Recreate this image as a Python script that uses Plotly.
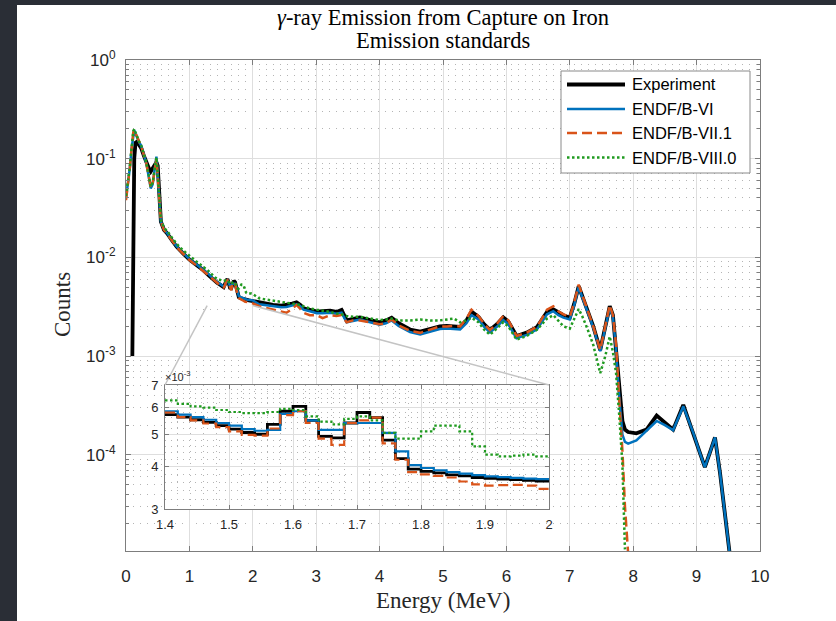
import math
import plotly.graph_objects as go

# ---------------- data ----------------
series_names = ["Experiment", "ENDF/B-VI", "ENDF/B-VII.1", "ENDF/B-VIII.0"]

energy_low = [0.00, 0.03, 0.06, 0.09, 0.10, 0.115, 0.13, 0.15, 0.17, 0.20,
              0.24, 0.28, 0.32, 0.36, 0.39, 0.42, 0.45, 0.48, 0.50, 0.525,
              0.55, 0.60, 0.65, 0.72, 0.80, 0.90, 1.00, 1.10, 1.20, 1.30]
exp_low = [None, None, None, None, 1.0e-3, 0.022, 0.10, 0.145, 0.148, 0.140,
           0.128, 0.108, 0.090, 0.080, 0.074, 0.080, 0.087, 0.092, 0.085, 0.040,
           0.023, 0.019, 0.0175, 0.0150, 0.0128, 0.0110, 0.0095, 0.0085, 0.0076, 0.0066]
vi_low = [0.040, 0.055, 0.080, 0.130, 0.150, 0.185, 0.195, 0.180, 0.165, 0.150,
          0.135, 0.110, 0.090, 0.065, 0.050, 0.055, 0.075, 0.105, 0.070, 0.035,
          0.023, 0.0192, 0.0176, 0.0151, 0.0129, 0.0111, 0.0096, 0.0086, 0.0077, 0.0068]
vii_low = [0.038, 0.054, 0.080, 0.128, 0.150, 0.185, 0.195, 0.182, 0.166, 0.150,
           0.134, 0.110, 0.090, 0.066, 0.051, 0.056, 0.075, 0.100, 0.068, 0.034,
           0.023, 0.0190, 0.0174, 0.0150, 0.0127, 0.0109, 0.0094, 0.0084, 0.0075, 0.0066]
viii_low = [0.042, 0.056, 0.082, 0.132, 0.155, 0.190, 0.200, 0.185, 0.168, 0.152,
            0.136, 0.112, 0.092, 0.067, 0.052, 0.057, 0.077, 0.103, 0.070, 0.036,
            0.024, 0.0200, 0.0185, 0.0160, 0.0137, 0.0118, 0.0103, 0.0092, 0.0082, 0.0073]

# fine binned region shown in the inset (bin starts, 0.02 MeV)
energy_inset = [1.40, 1.42, 1.44, 1.46, 1.48, 1.50, 1.52, 1.54, 1.56, 1.58,
                1.60, 1.62, 1.64, 1.66, 1.68, 1.70, 1.72, 1.74, 1.76, 1.78,
                1.80, 1.82, 1.84, 1.86, 1.88, 1.90, 1.92, 1.94, 1.96, 1.98, 2.00]
exp_inset = [5.72e-3, 5.62e-3, 5.52e-3, 5.42e-3, 5.30e-3, 5.18e-3, 5.06e-3, 5.00e-3, 5.35e-3, 5.85e-3,
             6.05e-3, 5.50e-3, 4.93e-3, 4.88e-3, 5.40e-3, 5.80e-3, 5.60e-3, 4.80e-3, 4.23e-3, 3.94e-3,
             3.88e-3, 3.84e-3, 3.79e-3, 3.76e-3, 3.72e-3, 3.70e-3, 3.68e-3, 3.67e-3, 3.65e-3, 3.63e-3, 3.62e-3]
vi_inset = [5.85e-3, 5.72e-3, 5.62e-3, 5.52e-3, 5.40e-3, 5.30e-3, 5.18e-3, 5.12e-3, 5.15e-3, 5.75e-3,
            5.85e-3, 5.50e-3, 5.15e-3, 5.15e-3, 5.40e-3, 5.40e-3, 5.40e-3, 5.05e-3, 4.45e-3, 4.05e-3,
            3.97e-3, 3.91e-3, 3.86e-3, 3.82e-3, 3.78e-3, 3.75e-3, 3.73e-3, 3.71e-3, 3.69e-3, 3.68e-3, 3.67e-3]
vii_inset = [5.80e-3, 5.62e-3, 5.50e-3, 5.38e-3, 5.25e-3, 5.10e-3, 4.98e-3, 4.95e-3, 5.20e-3, 5.70e-3,
             5.85e-3, 5.40e-3, 4.85e-3, 4.65e-3, 5.40e-3, 5.50e-3, 5.60e-3, 4.70e-3, 4.20e-3, 3.86e-3,
             3.80e-3, 3.76e-3, 3.72e-3, 3.62e-3, 3.55e-3, 3.52e-3, 3.53e-3, 3.54e-3, 3.52e-3, 3.44e-3, 3.42e-3]
viii_inset = [6.30e-3, 6.15e-3, 6.05e-3, 6.00e-3, 5.90e-3, 5.82e-3, 5.78e-3, 5.78e-3, 5.82e-3, 5.95e-3,
              5.90e-3, 5.65e-3, 5.45e-3, 5.35e-3, 5.55e-3, 5.65e-3, 5.50e-3, 5.05e-3, 4.85e-3, 4.85e-3,
              5.10e-3, 5.30e-3, 5.30e-3, 5.10e-3, 4.60e-3, 4.35e-3, 4.30e-3, 4.32e-3, 4.35e-3, 4.30e-3, 4.25e-3]

energy_high = [2.10, 2.20, 2.32, 2.45, 2.53, 2.62, 2.69, 2.75, 2.80, 2.90,
               3.01, 3.10, 3.22, 3.32, 3.40, 3.48, 3.58, 3.69, 3.85, 4.00,
               4.10, 4.19, 4.30, 4.48, 4.64, 4.80, 4.95, 5.06, 5.17, 5.27,
               5.37, 5.45, 5.56, 5.65, 5.74, 5.85, 5.95, 6.03, 6.16, 6.32,
               6.48, 6.56, 6.64, 6.74, 6.82, 6.90, 7.00, 7.07, 7.14, 7.20,
               7.27, 7.37, 7.48, 7.56, 7.63, 7.68, 7.73, 7.78, 7.83, 7.87,
               7.92, 8.05, 8.21, 8.37, 8.50, 8.63, 8.79, 8.95, 9.05, 9.13,
               9.22, 9.29, 9.37, 9.45, 9.53]
exp_high = [3.45e-3, 3.38e-3, 3.30e-3, 3.25e-3, 3.30e-3, 3.40e-3, 3.50e-3, 3.30e-3, 3.05e-3, 2.95e-3,
            2.82e-3, 2.85e-3, 2.88e-3, 2.80e-3, 2.93e-3, 2.30e-3, 2.40e-3, 2.47e-3, 2.32e-3, 2.20e-3,
            2.30e-3, 2.45e-3, 2.15e-3, 1.86e-3, 1.77e-3, 1.90e-3, 2.00e-3, 2.02e-3, 2.00e-3, 1.98e-3,
            2.30e-3, 2.82e-3, 2.50e-3, 2.10e-3, 1.84e-3, 2.10e-3, 2.47e-3, 2.24e-3, 1.60e-3, 1.73e-3,
            1.96e-3, 2.30e-3, 2.80e-3, 2.98e-3, 2.75e-3, 2.60e-3, 2.45e-3, 3.40e-3, 5.10e-3, 4.00e-3,
            3.00e-3, 2.00e-3, 1.15e-3, 2.00e-3, 3.20e-3, 2.60e-3, 1.20e-3, 4.50e-4, 2.20e-4, 1.80e-4,
            1.70e-4, 1.65e-4, 1.80e-4, 2.50e-4, 2.10e-4, 1.80e-4, 3.20e-4, 1.65e-4, 1.05e-4, 7.5e-5,
            1.10e-4, 1.50e-4, 6.5e-5, 2.5e-5, 9e-6]
vi_high = [3.35e-3, 3.28e-3, 3.20e-3, 3.12e-3, 3.15e-3, 3.25e-3, 3.35e-3, 3.20e-3, 2.95e-3, 2.85e-3,
           2.72e-3, 2.72e-3, 2.75e-3, 2.68e-3, 2.75e-3, 2.20e-3, 2.28e-3, 2.35e-3, 2.20e-3, 2.08e-3,
           2.15e-3, 2.30e-3, 2.02e-3, 1.75e-3, 1.66e-3, 1.78e-3, 1.88e-3, 1.90e-3, 1.88e-3, 1.86e-3,
           2.15e-3, 2.60e-3, 2.35e-3, 1.98e-3, 1.74e-3, 1.98e-3, 2.32e-3, 2.10e-3, 1.52e-3, 1.64e-3,
           1.86e-3, 2.20e-3, 2.65e-3, 2.85e-3, 2.60e-3, 2.45e-3, 2.35e-3, 3.30e-3, 5.00e-3, 3.90e-3,
           2.90e-3, 1.95e-3, 1.12e-3, 1.95e-3, 3.10e-3, 2.50e-3, 1.15e-3, 3.80e-4, 1.60e-4, 1.35e-4,
           1.30e-4, 1.40e-4, 1.75e-4, 2.20e-4, 2.00e-4, 1.78e-4, 3.10e-4, 1.65e-4, 1.05e-4, 7.5e-5,
           1.10e-4, 1.50e-4, 6.5e-5, 2.5e-5, 9e-6]
vii_high = [3.20e-3, 3.10e-3, 2.95e-3, 2.85e-3, 2.75e-3, 3.00e-3, 3.30e-3, 3.00e-3, 2.75e-3, 2.60e-3,
            2.60e-3, 2.42e-3, 2.60e-3, 2.55e-3, 2.60e-3, 2.20e-3, 2.30e-3, 2.30e-3, 2.20e-3, 2.10e-3,
            2.15e-3, 2.35e-3, 2.05e-3, 1.80e-3, 1.72e-3, 1.85e-3, 2.00e-3, 2.00e-3, 2.02e-3, 2.00e-3,
            2.40e-3, 2.95e-3, 2.55e-3, 2.12e-3, 1.84e-3, 2.12e-3, 2.55e-3, 2.30e-3, 1.60e-3, 1.73e-3,
            1.98e-3, 2.40e-3, 2.95e-3, 3.20e-3, 2.85e-3, 2.65e-3, 2.50e-3, 3.50e-3, 5.30e-3, 4.10e-3,
            3.05e-3, 2.00e-3, 1.15e-3, 2.00e-3, 3.30e-3, 2.60e-3, 1.30e-3, 3.60e-4, 1.10e-4, 3.0e-5,
            1.0e-5, None, None, None, None, None, None, None, None, None,
            None, None, None, None, None]
viii_high = [3.85e-3, 3.75e-3, 3.65e-3, 3.55e-3, 3.50e-3, 3.45e-3, 3.40e-3, 3.30e-3, 3.20e-3, 3.05e-3,
             2.95e-3, 2.90e-3, 2.80e-3, 2.70e-3, 2.65e-3, 2.55e-3, 2.50e-3, 2.50e-3, 2.40e-3, 2.32e-3,
             2.35e-3, 2.40e-3, 2.30e-3, 2.30e-3, 2.35e-3, 2.30e-3, 2.30e-3, 2.35e-3, 2.40e-3, 2.20e-3,
             2.30e-3, 2.45e-3, 2.20e-3, 1.85e-3, 1.65e-3, 1.90e-3, 2.20e-3, 2.00e-3, 1.47e-3, 1.60e-3,
             1.85e-3, 2.10e-3, 2.40e-3, 2.60e-3, 2.30e-3, 2.00e-3, 1.90e-3, 2.40e-3, 3.00e-3, 2.50e-3,
             1.95e-3, 1.30e-3, 6.7e-4, 1.00e-3, 1.58e-3, 1.10e-3, 6.7e-4, 2.5e-4, 8.0e-5, 1.1e-5,
             None, None, None, None, None, None, None, None, None, None,
             None, None, None, None, None]

x_tick_vals = [0, 1, 2, 3, 4, 5, 6, 7, 8, 9, 10]
y_tick_vals = [1e-4, 1e-3, 1e-2, 1e-1, 1]
y_tick_text = ["10<sup>-4</sup>", "10<sup>-3</sup>", "10<sup>-2</sup>", "10<sup>-1</sup>", "10<sup>0</sup>"]
inset_x_ticks = [1.4, 1.5, 1.6, 1.7, 1.8, 1.9, 2.0]
inset_x_text = ["1.4", "1.5", "1.6", "1.7", "1.8", "1.9", "2"]
inset_y_ticks = [3e-3, 4e-3, 5e-3, 6e-3, 7e-3]
inset_y_text = ["3", "4", "5", "6", "7"]
zoom_box_x = [1.28, 2.0]
zoom_box_y = [3.25e-3, 7.45e-3]

# ---------------- layout geometry ----------------
W, H = 836, 621
ML, MR, MT, MB = 126, 76, 60, 70
PW, PH = W - ML - MR, H - MT - MB
Y_LOG_RANGE = [math.log10(1.06e-5), 0.0]
X_RANGE = [0, 10]


def px2x(px):
    return (px - ML) / PW


def py2y(py):
    return (H - MB - py) / PH


INSET_X_DOM = [px2x(165), px2x(549)]
INSET_Y_DOM = [py2y(509), py2y(385)]

colors = ["#000000", "#0072BD", "#D95319", "#1f9a1f"]
dashes = ["solid", "solid", "10px,5px", "2.5px,2.5px"]
widths_main = [3.8, 2.5, 2.5, 2.5]
widths_inset = [2.8, 2.2, 2.2, 2.2]

SANS = "Liberation Sans, Arial, sans-serif"
TICK_FONT = dict(family=SANS, size=17, color="#262626")
INSET_TICK_FONT = dict(family=SANS, size=13, color="#262626")
SERIF = "Liberation Serif, Times New Roman, serif"
AXIS_COLOR = "#7d7d7d"
GRID = "#dedede"
MINOR_GRID = "#b4b4b4"

fig = go.Figure()

main_x = energy_low + energy_inset + energy_high
main_series = [exp_low + exp_inset + exp_high,
               vi_low + vi_inset + vi_high,
               vii_low + vii_inset + vii_high,
               viii_low + viii_inset + viii_high]
inset_series = [exp_inset, vi_inset, vii_inset, viii_inset]

for i, name in enumerate(series_names):
    fig.add_trace(go.Scatter(
        x=main_x, y=main_series[i], mode="lines", name=name, showlegend=False,
        line=dict(color=colors[i], width=widths_main[i], dash=dashes[i]),
        xaxis="x", yaxis="y"))

for i, name in enumerate(series_names):
    fig.add_trace(go.Scatter(
        x=energy_inset, y=inset_series[i], mode="lines", name=name, showlegend=False,
        line=dict(color=colors[i], width=widths_inset[i], dash=dashes[i], shape="hv"),
        xaxis="x2", yaxis="y2"))

minor_y = [k * 10 ** n for n in range(-5, 0) for k in range(2, 10)]
inset_minor_y = [v / 1000 for v in [3.2, 3.4, 3.6, 3.8, 4.2, 4.4, 4.6, 4.8, 5.2, 5.4, 5.6, 5.8,
                                    6.2, 6.4, 6.6, 6.8]]
inset_minor_x = [1.4 + 0.02 * k for k in range(31) if k % 5 != 0]

fig.update_layout(
    width=W, height=H,
    margin=dict(l=ML, r=MR, t=MT, b=MB),
    paper_bgcolor="#2a2e36",
    plot_bgcolor="#ffffff",
    showlegend=False,
    xaxis=dict(
        range=X_RANGE, tickvals=x_tick_vals, ticks="inside", ticklen=5,
        tickcolor=AXIS_COLOR, showline=True, linecolor=AXIS_COLOR, linewidth=1,
        mirror="ticks", showgrid=True, gridcolor=GRID, zeroline=False,
        tickfont=TICK_FONT, ticklabelstandoff=10,
    ),
    yaxis=dict(
        type="log", range=Y_LOG_RANGE, tickvals=y_tick_vals, ticktext=y_tick_text,
        ticks="inside", ticklen=5, tickcolor=AXIS_COLOR, showline=True,
        linecolor=AXIS_COLOR, linewidth=1, mirror="ticks", showgrid=True,
        gridcolor=GRID, zeroline=False, tickfont=TICK_FONT, ticklabelstandoff=6,
        minor=dict(tickvals=minor_y, ticks="inside", ticklen=3, tickcolor=AXIS_COLOR,
                   showgrid=True, gridcolor=MINOR_GRID, griddash="1px,6px", gridwidth=1),
    ),
    xaxis2=dict(
        domain=INSET_X_DOM, anchor="y2", range=[1.4, 2.0], tickvals=inset_x_ticks,
        ticktext=inset_x_text, ticks="inside", ticklen=4, tickcolor=AXIS_COLOR,
        showline=True, linecolor=AXIS_COLOR, linewidth=1, mirror="ticks",
        showgrid=True, gridcolor=GRID, zeroline=False,
        tickfont=INSET_TICK_FONT, ticklabelstandoff=3,
        minor=dict(tickvals=inset_minor_x, showgrid=True, gridcolor=MINOR_GRID,
                   griddash="1px,5px", gridwidth=1),
    ),
    yaxis2=dict(
        domain=INSET_Y_DOM, anchor="x2", type="log",
        range=[math.log10(3e-3), math.log10(7e-3)], tickvals=inset_y_ticks,
        ticktext=inset_y_text, ticks="inside", ticklen=4, tickcolor=AXIS_COLOR,
        showline=True, linecolor=AXIS_COLOR, linewidth=1, mirror="ticks",
        showgrid=True, gridcolor=GRID, zeroline=False,
        tickfont=INSET_TICK_FONT, ticklabelstandoff=3,
        minor=dict(tickvals=inset_minor_y, showgrid=True, gridcolor=MINOR_GRID,
                   griddash="1px,5px", gridwidth=1),
    ),
)

shapes = []
# white page area
shapes.append(dict(type="rect", xref="paper", yref="paper", layer="below",
                   x0=px2x(17), x1=px2x(W + 2), y0=py2y(H + 2), y1=py2y(5),
                   fillcolor="#ffffff", line=dict(width=0)))
# zoom box on the main axes
zy0, zy1 = math.log10(zoom_box_y[0]), math.log10(zoom_box_y[1])
shapes.append(dict(type="rect", xref="x", yref="y", layer="above",
                   x0=zoom_box_x[0], x1=zoom_box_x[1], y0=zy0, y1=zy1,
                   line=dict(color="#c4c4c4", width=1.5)))


def data_to_paper(xv, ylog):
    return ((xv - X_RANGE[0]) / (X_RANGE[1] - X_RANGE[0]),
            (ylog - Y_LOG_RANGE[0]) / (Y_LOG_RANGE[1] - Y_LOG_RANGE[0]))


bl = data_to_paper(zoom_box_x[0], zy0)
br = data_to_paper(zoom_box_x[1], zy0)
shapes.append(dict(type="line", xref="paper", yref="paper", layer="above",
                   x0=bl[0], y0=bl[1], x1=INSET_X_DOM[0], y1=INSET_Y_DOM[1],
                   line=dict(color="#c4c4c4", width=1.5)))
shapes.append(dict(type="line", xref="paper", yref="paper", layer="above",
                   x0=br[0], y0=br[1], x1=INSET_X_DOM[1], y1=INSET_Y_DOM[1],
                   line=dict(color="#c4c4c4", width=1.5)))

# legend box
shapes.append(dict(type="rect", xref="paper", yref="paper", layer="above",
                   x0=px2x(561), x1=px2x(750), y0=py2y(173), y1=py2y(71),
                   fillcolor="#ffffff", line=dict(color="#8a8a8a", width=1)))
annotations = []
legend_rows = [84.5, 109, 133, 157.5]
for i, name in enumerate(series_names):
    yy = py2y(legend_rows[i])
    shapes.append(dict(type="line", xref="paper", yref="paper", layer="above",
                       x0=px2x(567), x1=px2x(625), y0=yy, y1=yy,
                       line=dict(color=colors[i], width=widths_main[i], dash=dashes[i])))
    annotations.append(dict(xref="paper", yref="paper", x=px2x(630), y=yy,
                            xanchor="left", yanchor="middle", showarrow=False, text=name,
                            font=dict(family=SANS, size=16.5, color="#000000")))

# titles
annotations.append(dict(xref="paper", yref="paper", x=0.5, y=py2y(17), xanchor="center",
                        yanchor="middle", showarrow=False,
                        text="<i>γ</i>-ray Emission from Capture on Iron",
                        font=dict(family=SERIF, size=22.5, color="#000000")))
annotations.append(dict(xref="paper", yref="paper", x=0.5, y=py2y(41), xanchor="center",
                        yanchor="middle", showarrow=False, text="Emission standards",
                        font=dict(family=SERIF, size=22.5, color="#000000")))
annotations.append(dict(xref="paper", yref="paper", x=0.5, y=py2y(600), xanchor="center",
                        yanchor="middle", showarrow=False, text="Energy (MeV)",
                        font=dict(family=SERIF, size=23, color="#262626")))
annotations.append(dict(xref="paper", yref="paper", x=px2x(62), y=py2y(305), xanchor="center",
                        yanchor="middle", showarrow=False, text="Counts", textangle=-90,
                        font=dict(family=SERIF, size=23, color="#262626")))
annotations.append(dict(xref="paper", yref="paper", x=px2x(163), y=py2y(385), xanchor="left",
                        yanchor="bottom", showarrow=False, text="×10<sup>-3</sup>",
                        font=dict(family=SANS, size=11, color="#262626")))

fig.update_layout(shapes=shapes, annotations=annotations)
fig.write_html("out.html")
